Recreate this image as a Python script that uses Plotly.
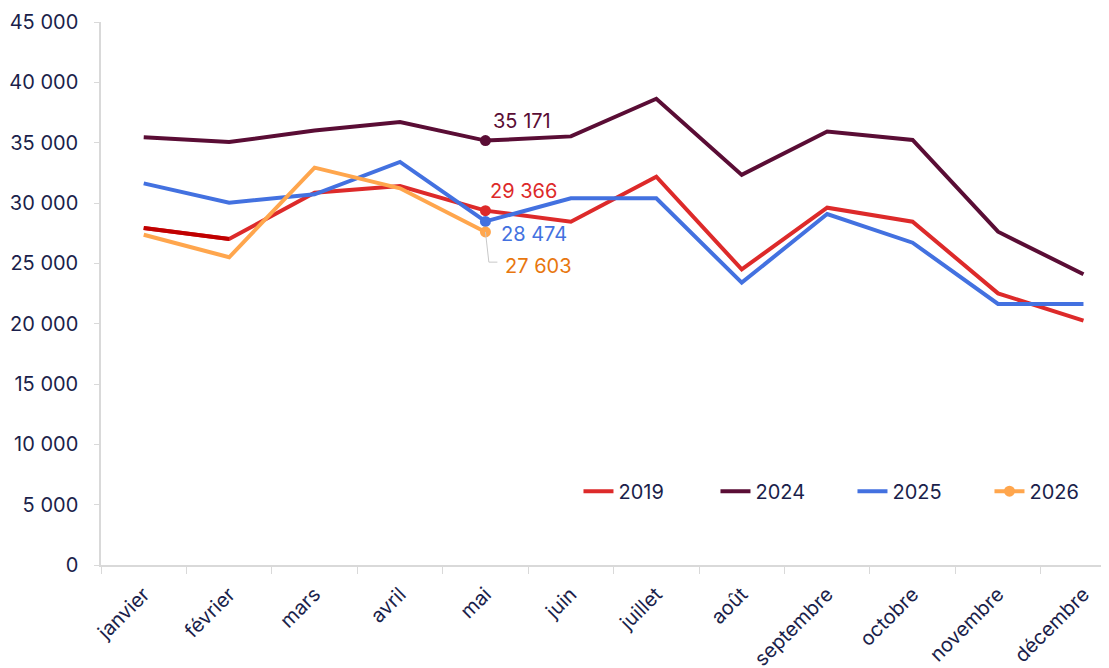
import plotly.graph_objects as go

# ─── Data ────────────────────────────────────────────────────────────────────
MONTHS = ["janvier", "février", "mars", "avril", "mai", "juin", "juillet",
          "août", "septembre", "octobre", "novembre", "décembre"]

Y2019 = [27930, 27020, 30850, 31410, 29366, 28450, 32180, 24500, 29610, 28450, 22510, 20250]
Y2024 = [35450, 35050, 36000, 36710, 35171, 35520, 38640, 32330, 35930, 35220, 27620, 24090]
Y2025 = [31630, 30020, 30720, 33400, 28474, 30390, 30390, 23400, 29090, 26710, 21630, 21630]
Y2026 = [27370, 25500, 32930, 31220, 27603]

Y_TICKS = [0, 5000, 10000, 15000, 20000, 25000, 30000, 35000, 40000, 45000]

# ─── Design tokens ───────────────────────────────────────────────────────────
FONT = "Inter, Noto Sans, sans-serif"
INK = "#1b1f4b"
AXIS = "#d9d9d9"
C2019 = "#dd2a2a"
C2019_DARK = "#c00000"
C2024 = "#5a0d35"
C2025 = "#4371e0"
C2026 = "#ffa64d"
C2026_TXT = "#e8770f"
LW = 4


def fmt(v):
    return f"{v:,}".replace(",", " ")


fig = go.Figure()

# line traces
fig.add_trace(go.Scatter(x=MONTHS, y=Y2019, mode="lines", name="2019",
                         line=dict(color=C2019, width=LW)))
fig.add_trace(go.Scatter(x=MONTHS[:2], y=Y2019[:2], mode="lines", showlegend=False,
                         line=dict(color=C2019_DARK, width=LW)))
fig.add_trace(go.Scatter(x=MONTHS, y=Y2024, mode="lines", name="2024",
                         line=dict(color=C2024, width=LW)))
fig.add_trace(go.Scatter(x=MONTHS, y=Y2025, mode="lines", name="2025",
                         line=dict(color=C2025, width=LW)))
fig.add_trace(go.Scatter(x=MONTHS[:len(Y2026)], y=Y2026, mode="lines", showlegend=False,
                         line=dict(color=C2026, width=LW)))

# mai markers (the 2026 one carries the legend entry)
last = len(Y2026) - 1
for ys, col, leg in [(Y2019, C2019, False), (Y2024, C2024, False),
                     (Y2025, C2025, False), (Y2026, C2026, True)]:
    fig.add_trace(go.Scatter(
        x=[MONTHS[last]], y=[ys[last]], mode="lines+markers",
        name="2026" if leg else None, showlegend=leg,
        line=dict(color=col, width=LW),
        marker=dict(color=col, size=11),
    ))

# value labels
labels = [
    (Y2024[last], C2024, 6, -20),
    (Y2019[last], C2019, 3, -20),
    (Y2025[last], C2025, 14, 13),
    (Y2026[last], C2026_TXT, 18, 34),
]
for v, col, dx, dy in labels:
    fig.add_annotation(x=MONTHS[last], y=v, text=fmt(v), showarrow=False,
                       xanchor="left", yanchor="middle", xshift=dx, yshift=-dy,
                       font=dict(size=20, color=col, family=FONT))

# leader line for 27 603
fig.add_shape(type="path", xref="x", yref="y",
              path="M 4,27603 L 4.04,25100 L 4.14,25100",
              line=dict(color="#c8c8c8", width=1))

# figure is a bit wider than the window so the plot runs off the right edge
fig.update_layout(
    width=1131, height=668,
    paper_bgcolor="white", plot_bgcolor="white",
    margin=dict(l=93, r=0, t=14, b=111),
    font=dict(family=FONT, color=INK, size=19),
    separators=", ",
    showlegend=True,
    legend=dict(orientation="h", x=0.460, xanchor="left", y=0.136, yanchor="middle",
                font=dict(size=20, color=INK), entrywidth=92,
                bgcolor="rgba(0,0,0,0)"),
    xaxis=dict(
        type="category", range=[-0.5, 11.65],
        showgrid=False, showline=True, linecolor=AXIS, linewidth=1.5,
        ticks="outside", tickson="boundaries", ticklen=7, tickcolor=AXIS,
        ticklabelstandoff=8,
        tickangle=-45, tickfont=dict(size=20, color=INK), automargin=False,
    ),
    yaxis=dict(
        range=[0, 45000], tickvals=Y_TICKS, tickformat=",d",
        showgrid=False, zeroline=False, showline=True, linecolor=AXIS, linewidth=1.5,
        ticks="outside", ticklen=5, tickcolor=AXIS, ticklabelstandoff=12,
        tickfont=dict(size=20, color=INK), automargin=False,
    ),
)

fig.write_html("out.html")
